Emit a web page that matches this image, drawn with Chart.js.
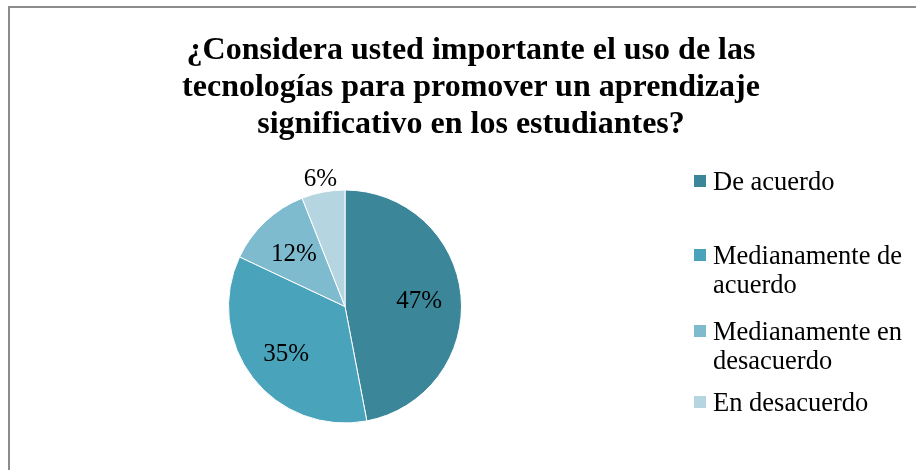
<!DOCTYPE html>
<html>
<head>
<meta charset="utf-8">
<script src="https://cdn.jsdelivr.net/npm/chart.js@4"></script>
<style>
  html, body { margin:0; padding:0; background:#fff; }
  body { width:916px; height:470px; position:relative; overflow:hidden; font-family:"Liberation Serif","Times New Roman",serif; }
  #frame { position:absolute; left:8px; top:6px; width:1000px; height:600px; border-left:2px solid #8c8c8c; border-top:2px solid #8c8c8c; }
  #wrap { position:absolute; left:0; top:0; width:916px; height:470px; }
  #title { position:absolute; left:171px; width:600px; top:30px; text-align:center; font-weight:bold; font-size:32px; line-height:37px; color:#000; }
  .leg { position:absolute; left:694px; width:222px; font-size:26.5px; line-height:29px; color:#000; }
  .leg .sw { position:absolute; left:0; top:8px; width:12px; height:12px; }
  .leg .tx { position:absolute; left:19px; top:0; width:203px; }
</style>
</head>
<body>
<div id="frame"></div>
<div id="wrap"><canvas id="c" width="916" height="470"></canvas></div>
<div id="title">¿Considera usted importante el uso de las tecnologías para promover un aprendizaje significativo en los estudiantes?</div>
<div id="legend"></div>
<script>
const categories = ["De acuerdo", "Medianamente de acuerdo", "Medianamente en desacuerdo", "En desacuerdo"];
const values = [47, 35, 12, 6];
const colors = ["#3b8699", "#49a3ba", "#7fbbcf", "#b5d6e1"];

// legend layout (HTML), one top per entry
const legendTops = [167, 241, 317, 388];
const legend = document.getElementById('legend');
categories.forEach((name, i) => {
  const d = document.createElement('div');
  d.className = 'leg';
  d.style.top = legendTops[i] + 'px';
  d.innerHTML = '<div class="sw" style="background:' + colors[i] + '"></div><div class="tx"></div>';
  d.querySelector('.tx').textContent = name;
  legend.appendChild(d);
});

const labelPlugin = {
  id: 'pctLabels',
  afterDatasetsDraw(chart) {
    const ctx = chart.ctx;
    const meta = chart.getDatasetMeta(0);
    const data = chart.data.datasets[0].data;
    const total = data.reduce((a, b) => a + b, 0);
    ctx.save();
    ctx.font = '25px "Liberation Serif", "Times New Roman", serif';
    ctx.fillStyle = '#000';
    ctx.textAlign = 'center';
    ctx.textBaseline = 'alphabetic';
    meta.data.forEach((arc, i) => {
      const p = arc.getProps(['x', 'y', 'startAngle', 'endAngle', 'outerRadius'], true);
      const mid = (p.startAngle + p.endAngle) / 2;
      const frac = data[i] / total;
      const r = frac < 0.08 ? p.outerRadius * 1.125 : p.outerRadius * 0.64;
      const x = p.x + Math.cos(mid) * r;
      const y = p.y + Math.sin(mid) * r;
      ctx.fillText(Math.round(frac * 100) + '%', x, y + 8.5);
    });
    ctx.restore();
  }
};

new Chart(document.getElementById('c'), {
  type: 'pie',
  data: {
    labels: categories,
    datasets: [{
      data: values,
      backgroundColor: colors,
      borderColor: '#ffffff',
      borderWidth: 1
    }]
  },
  options: {
    responsive: false,
    animation: false,
    rotation: 0,
    layout: { padding: { left: 228, right: 454, top: 189, bottom: 46 } },
    plugins: {
      legend: { display: false },
      title: { display: false },
      tooltip: { enabled: false }
    }
  },
  plugins: [labelPlugin]
});
</script>
</body>
</html>
